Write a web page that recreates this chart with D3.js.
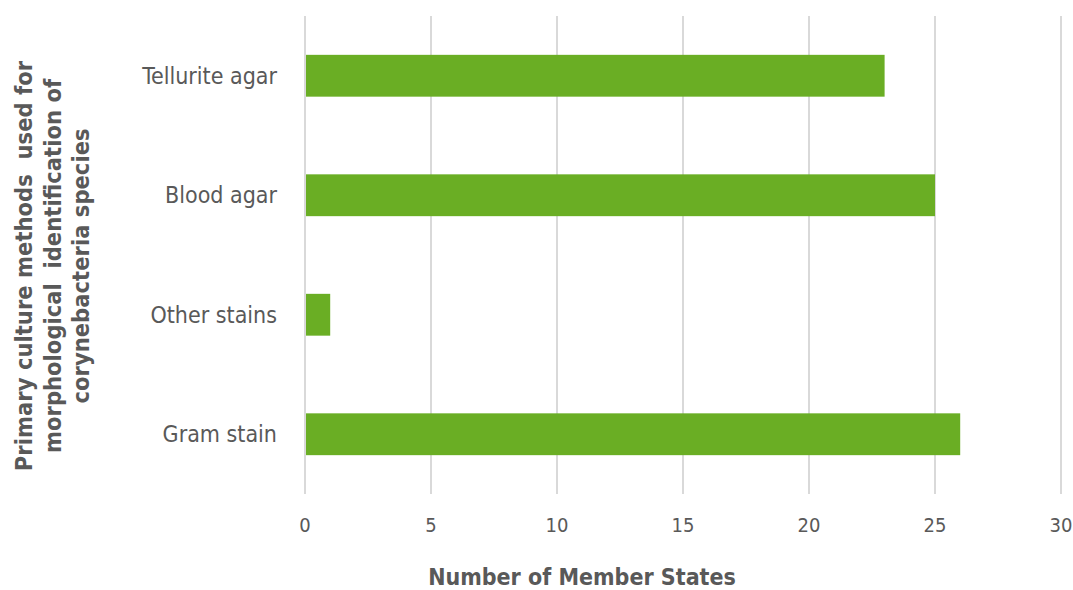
<!DOCTYPE html>
<html><head><meta charset="utf-8">
<script src="https://cdn.jsdelivr.net/npm/d3@7"></script>
<style>body{margin:0;background:#fff}svg{display:block}text{font-family:"DejaVu Sans Condensed","DejaVu Sans",sans-serif;fill:#595959;white-space:pre}</style>
</head><body>
<script>
const categories = ["Tellurite agar","Blood agar","Other stains","Gram stain"];
const values = [23,25,1,26];
const xTicks = [0,5,10,15,20,25,30];
const xTitle = "Number of Member States";
const yTitleLines = ["Primary culture methods  used for","morphological  identification of","corynebacteria species"];

const W=1073,H=590;
const svg=d3.select("body").append("svg").attr("width",W).attr("height",H);
const x=d3.scaleLinear().domain([0,30]).range([305,1061]);
const y=d3.scaleBand().domain(categories).range([16,494]).paddingInner(0.65).paddingOuter(0.325);

svg.append("g").selectAll("line").data(xTicks).join("line")
 .attr("x1",d=>x(d)).attr("x2",d=>x(d)).attr("y1",16).attr("y2",494)
 .attr("stroke","#d9d9d9").attr("stroke-width",2);

svg.append("g").selectAll("rect").data(values).join("rect")
 .attr("x",x(0)+1).attr("y",(d,i)=>y(categories[i]))
 .attr("width",d=>x(d)-x(0)-1).attr("height",y.bandwidth()).attr("fill","#6aae24");

svg.append("g").selectAll("text").data(categories).join("text")
 .attr("x",277).attr("y",d=>y(d)+y.bandwidth()/2+8)
 .attr("text-anchor","end").style("font-size","23px").text(d=>d);

svg.append("g").selectAll("text").data(xTicks).join("text")
 .attr("x",d=>x(d)).attr("y",532)
 .attr("text-anchor","middle").style("font-size","20px").text(d=>d);

svg.append("text").attr("x",582).attr("y",585)
 .attr("text-anchor","middle").style("font-size","23px").style("font-weight","bold").text(xTitle);

const yt=svg.append("text").attr("transform","translate(0,266) rotate(-90)")
 .attr("text-anchor","middle").style("font-size","23.5px").style("font-weight","bold");
yTitleLines.forEach((l,i)=>yt.append("tspan").attr("x",0).attr("y",32+i*28.5).text(l));
</script>
</body></html>
